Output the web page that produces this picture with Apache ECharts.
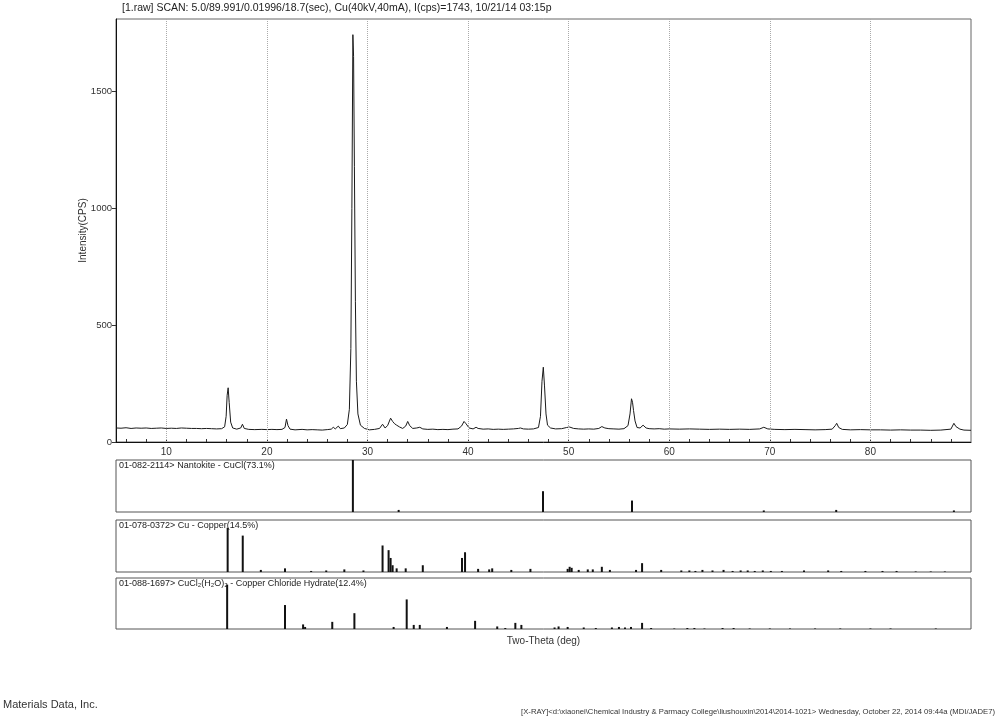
<!DOCTYPE html>
<html>
<head>
<meta charset="utf-8">
<style>
  html, body { margin: 0; padding: 0; background: #fff; }
  #chart { width: 1000px; height: 724px; }
</style>
<script src="https://cdn.jsdelivr.net/npm/echarts@6/dist/echarts.min.js"></script>
</head>
<body>
<div id="chart"></div>
<script>
// measured scan (2-theta in deg, intensity in cps)
var scanTheta = [
  5.0, 5.5, 6.0, 6.5, 7.0, 7.5, 8.0, 8.5, 9.0, 9.5, 10.0, 10.5, 11.0, 11.5, 12.0, 12.5, 13.0, 13.5, 14.0, 14.5,
  15.0, 15.5, 15.8, 15.95, 16.05, 16.15, 16.25, 16.4, 16.6, 17.0, 17.4, 17.57, 17.75, 18.2, 18.8, 19.5, 20.0, 20.5,
  21.0, 21.5, 21.8, 21.95, 22.1, 22.3, 22.8, 23.5, 24.0, 24.5, 25.0, 25.5, 26.0, 26.4, 26.6, 26.8, 27.1, 27.3, 27.7,
  28.0, 28.2, 28.35, 28.45, 28.55, 28.62, 28.7, 28.8, 28.9, 29.05, 29.3, 29.7, 30.2, 30.7, 31.2, 31.5, 31.75, 32.0,
  32.3, 32.5, 32.7, 32.9, 33.2, 33.5, 33.8, 34.0, 34.2, 34.5, 34.9, 35.2, 35.5, 36.0, 36.5, 37.0, 37.5, 38.0, 38.5,
  39.0, 39.35, 39.6, 39.8, 40.1, 40.5, 40.8, 41.0, 41.5, 42.0, 42.5, 43.0, 43.5, 44.0, 44.5, 45.0, 45.2, 45.5, 46.0,
  46.5, 47.0, 47.2, 47.35, 47.48, 47.6, 47.75, 47.9, 48.2, 48.7, 49.3, 49.8, 50.1, 50.5, 51.0, 51.5, 52.0, 52.5, 53.0,
  53.3, 53.6, 54.0, 54.5, 55.0, 55.5, 55.9, 56.1, 56.25, 56.35, 56.45, 56.6, 56.8, 57.1, 57.4, 57.7, 58.0, 58.5, 59.0,
  59.5, 60.0, 61.0, 62.0, 63.0, 64.0, 65.0, 66.0, 67.0, 68.0, 69.0, 69.4, 69.8, 70.5, 71.5, 72.5, 73.5, 74.5, 75.5,
  76.2, 76.5, 76.65, 76.85, 77.2, 78.0, 79.0, 80.0, 81.0, 82.0, 83.0, 84.0, 85.0, 86.0, 87.0, 88.0, 88.3, 88.5, 88.65,
  88.9, 89.3, 90.0
];
var scanCps = [
  60, 59, 61, 58, 60, 59, 60, 58, 59, 60, 58, 59, 58, 60, 59, 58, 58, 57, 58, 57,
  56, 57, 65, 110, 200, 232, 170, 85, 60, 55, 60, 76, 58, 54, 53, 54, 53, 54,
  53, 54, 62, 98, 70, 55, 52, 54, 52, 53, 52, 51, 53, 55, 63, 56, 68, 57, 60,
  75, 140, 400, 1000, 1743, 1650, 1180, 600, 260, 120, 72, 58, 52, 54, 58, 76, 60, 70,
  102, 88, 78, 72, 64, 58, 68, 88, 70, 58, 60, 63, 56, 54, 55, 53, 54, 53, 55,
  56, 68, 88, 78, 60, 56, 63, 58, 55, 56, 54, 55, 54, 55, 56, 58, 60, 56, 55,
  56, 62, 110, 260, 320, 240, 120, 72, 60, 56, 57, 62, 64, 58, 56, 55, 56, 55, 58,
  66, 60, 57, 56, 55, 57, 70, 120, 185, 170, 135, 90, 62, 60, 72, 60, 57, 56, 57,
  55, 56, 55, 56, 55, 54, 55, 54, 55, 54, 56, 63, 56, 54, 53, 54, 53, 52, 53,
  55, 70, 80, 62, 54, 52, 53, 52, 52, 51, 52, 51, 51, 50, 51, 55, 80, 66, 72,
  55, 51, 50
];

// reference patterns (2-theta, relative intensity %)
var nantokiteTheta = [28.55, 33.1, 47.45, 56.3, 69.4, 76.6, 88.3];
var nantokiteInt = [100, 4, 40, 22, 3, 4, 3];

var copperTheta = [
  16.1, 17.6, 19.4, 21.8, 24.4, 25.9, 27.7, 29.6, 31.5, 32.1, 32.3, 32.5, 32.9, 33.8, 35.5, 39.4, 39.7, 41.0, 42.1,
  42.4, 44.3, 46.2, 49.9, 50.1, 50.3, 51.0, 51.9, 52.4, 53.3, 54.1, 56.7, 57.3, 59.2, 61.2, 62.0, 62.6, 63.3, 64.3,
  65.4, 66.3, 67.1, 67.8, 68.5, 69.3, 70.1, 71.2, 73.4, 75.8, 77.1, 79.5, 81.2, 82.6, 84.5, 86.0, 87.4
];
var copperInt = [
  85, 70, 4, 7, 2, 3, 5, 3, 51, 42, 27, 13, 7, 7, 13, 27, 38, 6, 5,
  7, 4, 6, 6, 10, 8, 4, 5, 5, 10, 4, 4, 17, 4, 3, 3, 2, 4, 3,
  4, 2, 3, 3, 2, 3, 2, 2, 3, 3, 2, 2, 2, 2, 1, 1, 1
];

var hydrateTheta = [
  16.05, 21.8, 23.6, 23.8, 26.5, 28.7, 32.6, 33.9, 34.6, 35.2, 37.9, 40.7, 42.9, 43.7, 44.7, 45.3, 48.6, 49.0, 49.9,
  51.5, 52.7, 54.3, 55.0, 55.6, 56.2, 57.3, 58.2, 60.5, 61.8, 62.5, 63.5, 65.3, 66.4, 68.0, 70.0, 72.0, 74.5, 77.0,
  80.0, 82.0, 86.5
];
var hydrateInt = [
  87, 47, 9, 4, 14, 31, 4, 58, 8, 8, 4, 16, 5, 2, 12, 8, 3, 5, 4,
  3, 2, 3, 4, 3, 4, 12, 2, 1, 2, 2, 1, 2, 2, 1, 1, 1, 1, 1,
  1, 1, 1
];

var xLabelValues = [10, 20, 30, 40, 50, 60, 70, 80];
var xTickValues = [6, 8, 10, 12, 14, 16, 18, 20, 22, 24, 26, 28, 30, 32, 34, 36, 38, 40, 42, 44, 46, 48, 50,
  52, 54, 56, 58, 60, 62, 64, 66, 68, 70, 72, 74, 76, 78, 80, 82, 84, 86, 88];
var yLabelValues = [0, 500, 1000, 1500];

var font = "'Liberation Sans', Arial, sans-serif";

function zip(a, b) {
  return a.map(function (v, i) { return [v, b[i]]; });
}

var myChart = echarts.init(document.getElementById("chart"));

var panelBox = { left: 116, width: 855, show: true, borderColor: "#555", borderWidth: 1 };
function panelX(idx, extra) {
  return Object.assign({
    type: "value", gridIndex: idx, min: 5, max: 90, show: false
  }, extra || {});
}
function panelY(idx) {
  return { type: "value", gridIndex: idx, min: 0, max: 100, show: false };
}
function sticks(idx, theta, vals) {
  return {
    type: "bar",
    xAxisIndex: idx,
    yAxisIndex: idx,
    barWidth: 2,
    itemStyle: { color: "#111" },
    data: zip(theta, vals)
  };
}

var option = {
  animation: false,
  textStyle: { fontFamily: font },
  grid: [
    { left: 116, top: 19, width: 855, height: 423, show: true, borderColor: "#666", borderWidth: 1 },
    Object.assign({ top: 460, height: 52 }, panelBox),
    Object.assign({ top: 520, height: 52 }, panelBox),
    Object.assign({ top: 578, height: 51 }, panelBox)
  ],
  xAxis: [
    {
      type: "value",
      gridIndex: 0,
      min: 5,
      max: 90,
      axisLine: { show: true, onZero: false, lineStyle: { color: "#111", width: 1 } },
      axisTick: { show: true, inside: true, length: 3, customValues: xTickValues, lineStyle: { color: "#333" } },
      axisLabel: { customValues: xLabelValues, fontSize: 10, color: "#333", margin: 5 },
      splitLine: { show: false }
    },
    panelX(1),
    panelX(2),
    panelX(3, {
      show: true,
      axisLine: { show: false },
      axisTick: { show: false },
      axisLabel: { show: false },
      splitLine: { show: false },
      name: "Two-Theta (deg)",
      nameLocation: "middle",
      nameGap: 7,
      nameTextStyle: { fontSize: 10, color: "#333", verticalAlign: "top" }
    })
  ],
  yAxis: [
    {
      type: "value",
      gridIndex: 0,
      min: 0,
      max: 1810,
      axisLine: { show: true, lineStyle: { color: "#111", width: 1 } },
      axisTick: { show: true, length: 4, customValues: yLabelValues, lineStyle: { color: "#333" } },
      axisLabel: {
        customValues: yLabelValues,
        fontSize: 9.5,
        color: "#333",
        margin: 4,
        formatter: function (v) { return String(v); }
      },
      splitLine: { show: false },
      name: "Intensity(CPS)",
      nameLocation: "middle",
      nameRotate: 90,
      nameGap: 28,
      nameMoveOverlap: false,
      nameTextStyle: { fontSize: 10, color: "#333" }
    },
    panelY(1),
    panelY(2),
    panelY(3)
  ],
  graphic: [
    {
      type: "text", left: 122, top: 3,
      style: { text: "[1.raw] SCAN: 5.0/89.991/0.01996/18.7(sec), Cu(40kV,40mA), I(cps)=1743, 10/21/14 03:15p",
        fontSize: 10.5, fontFamily: font, fill: "#222" }
    },
    {
      type: "text", left: 119, top: 461,
      style: { text: "01-082-2114> Nantokite - CuCl(73.1%)", fontSize: 9, fontFamily: font, fill: "#222" }
    },
    {
      type: "text", left: 119, top: 521,
      style: { text: "01-078-0372> Cu - Copper(14.5%)", fontSize: 9, fontFamily: font, fill: "#222" }
    },
    {
      type: "text", left: 119, top: 579,
      style: { text: "01-088-1697> CuCl\u2082(H\u2082O)\u2082 - Copper Chloride Hydrate(12.4%)", fontSize: 9, fontFamily: font, fill: "#222" }
    },
    {
      type: "text", left: 3, top: 699,
      style: { text: "Materials Data, Inc.", fontSize: 11, fontFamily: font, fill: "#333" }
    },
    {
      type: "text", right: 5, top: 708,
      style: { text: "[X-RAY]<d:\\xiaonei\\Chemical Industry & Parmacy College\\liushouxin\\2014\\2014-1021> Wednesday, October 22, 2014 09:44a (MDI/JADE7)",
        fontSize: 7.7, fontFamily: font, fill: "#333" }
    }
  ],
  series: [
    {
      type: "line",
      xAxisIndex: 0,
      yAxisIndex: 0,
      showSymbol: false,
      lineStyle: { color: "#1a1a1a", width: 1 },
      data: zip(scanTheta, scanCps),
      markLine: {
        silent: true,
        symbol: ["none", "none"],
        label: { show: false },
        lineStyle: { color: "#aaa", type: "dotted", width: 1 },
        data: xLabelValues.map(function (v) { return { xAxis: v }; })
      }
    },
    sticks(1, nantokiteTheta, nantokiteInt),
    sticks(2, copperTheta, copperInt),
    sticks(3, hydrateTheta, hydrateInt)
  ]
};

myChart.setOption(option);
</script>
</body>
</html>
